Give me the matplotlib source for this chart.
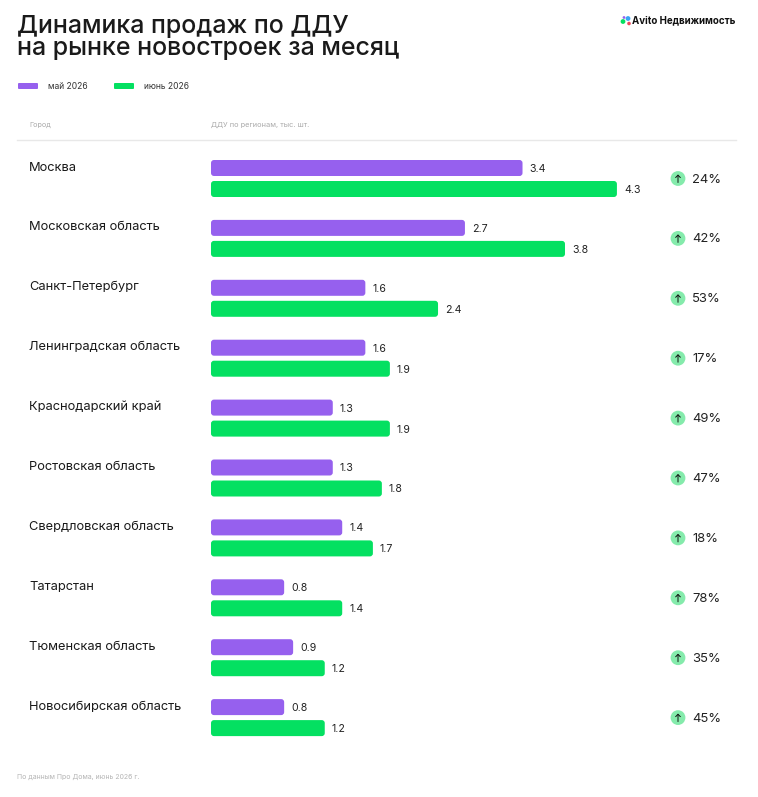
import matplotlib
matplotlib.use("Agg")
import matplotlib.pyplot as plt
from matplotlib.patches import FancyBboxPatch, Circle

plt.rcParams["font.family"] = ["Inter", "DejaVu Sans"]

cities = ["Москва", "Московская область", "Санкт-Петербург", "Ленинградская область",
          "Краснодарский край", "Ростовская область", "Свердловская область",
          "Татарстан", "Тюменская область", "Новосибирская область"]
may = [3.4, 2.7, 1.6, 1.6, 1.3, 1.3, 1.4, 0.8, 0.9, 0.8]
june = [4.3, 3.8, 2.4, 1.9, 1.9, 1.8, 1.7, 1.4, 1.2, 1.2]
growth = ["24%", "42%", "53%", "17%", "49%", "47%", "18%", "78%", "35%", "45%"]
may_len = [3.3, 2.69, 1.635, 1.635, 1.29, 1.29, 1.39, 0.775, 0.87, 0.775]
june_len = [4.3, 3.75, 2.405, 1.895, 1.895, 1.81, 1.715, 1.39, 1.205, 1.205]

PURPLE = "#9660ee"
GREEN = "#04e061"
W, H = 758, 797
PX = 94.4    # px per unit
ROW = 59.9   # px per row
Y0 = 178.5   # centre of first row

fig = plt.figure(figsize=(W/100, H/100), dpi=100, facecolor="white")

# page layer in pixel coords
pg = fig.add_axes([0, 0, 1, 1])
pg.set_xlim(0, W)
pg.set_ylim(H, 0)
pg.axis("off")

# chart axes: left edge at x=211, row 0 centred on Y0
top = Y0 - ROW/2
ax = fig.add_axes([211/W, 1-(top+10*ROW)/H, 500/W, 10*ROW/H])
ax.set_xlim(0, 500/PX)
ax.set_ylim(9.5, -0.5)
ax.axis("off")

def round_bar(y, val, color):
    h = 16/ROW
    box = FancyBboxPatch((0, y-h/2), val, h, boxstyle="round,pad=0,rounding_size=%f" % (3/PX),
                         mutation_aspect=PX/ROW, fc=color, ec="none")
    ax.add_patch(box)

off = 10.5/ROW
for i in range(len(cities)):
    round_bar(i-off, may_len[i], PURPLE)
    round_bar(i+off, june_len[i], GREEN)
    ax.text(may_len[i]+7/PX, i-off+1/ROW, "%.1f" % may[i], fontsize=7.6, color="#222222", va="center")
    ax.text(june_len[i]+7/PX, i+off+1/ROW, "%.1f" % june[i], fontsize=7.6, color="#222222", va="center")

    y = Y0 + i*ROW
    pg.text(29, y-11, cities[i], fontsize=9.25, color="#1a1a1a", va="center")
    pg.add_patch(Circle((678, y), 7.4, fc="#85ebac", ec="none"))
    pg.annotate("", xy=(678, y-4), xytext=(678, y+4),
                arrowprops=dict(arrowstyle="->,head_width=0.17,head_length=0.17", lw=0.7, color="#111111", shrinkA=0, shrinkB=0))
    pg.text(692, y+1, growth[i], fontsize=9.4, color="#222222", va="center")

# title
pg.text(17, 26.5, "Динамика продаж по ДДУ", fontsize=18, fontweight="medium", color="#1a1a1a", va="center")
pg.text(17, 48.5, "на рынке новостроек за месяц", fontsize=18, fontweight="medium", color="#1a1a1a", va="center")

# legend
pg.add_patch(FancyBboxPatch((18, 83), 20, 6, boxstyle="round,pad=0,rounding_size=1", fc=PURPLE, ec="none"))
pg.text(48, 86.5, "май 2026", fontsize=6.1, color="#333333", va="center")
pg.add_patch(FancyBboxPatch((114, 83), 20, 6, boxstyle="round,pad=0,rounding_size=1", fc=GREEN, ec="none"))
pg.text(144, 86.5, "июнь 2026", fontsize=6.1, color="#333333", va="center")

# table header
pg.text(29, 124.5, "Город", fontsize=5.2, color="#aaaaaa", va="center")
pg.text(211, 124.5, "ДДУ по регионам, тыс. шт.", fontsize=5.3, color="#aaaaaa", va="center")
pg.plot([17, 736], [140, 140], color="#e8e8e8", lw=1)

# logo
pg.add_patch(Circle((623, 21.5), 2.4, fc="#04e061", ec="none"))
pg.add_patch(Circle((628, 18.5), 2.4, fc="#3aa6f5", ec="none"))
pg.add_patch(Circle((629, 23.5), 1.8, fc="#f0455a", ec="none"))
pg.add_patch(Circle((624, 17.5), 1.4, fc="#9660ee", ec="none"))
pg.text(632, 20.5, "Avito Недвижимость", fontsize=7.0, fontweight="bold", color="#111111", va="center")

# footer
pg.text(17, 776.5, "По данным Про Дома, июнь 2026 г.", fontsize=5, color="#b5b5b5", va="center")

fig.savefig("out.png", dpi=100)
